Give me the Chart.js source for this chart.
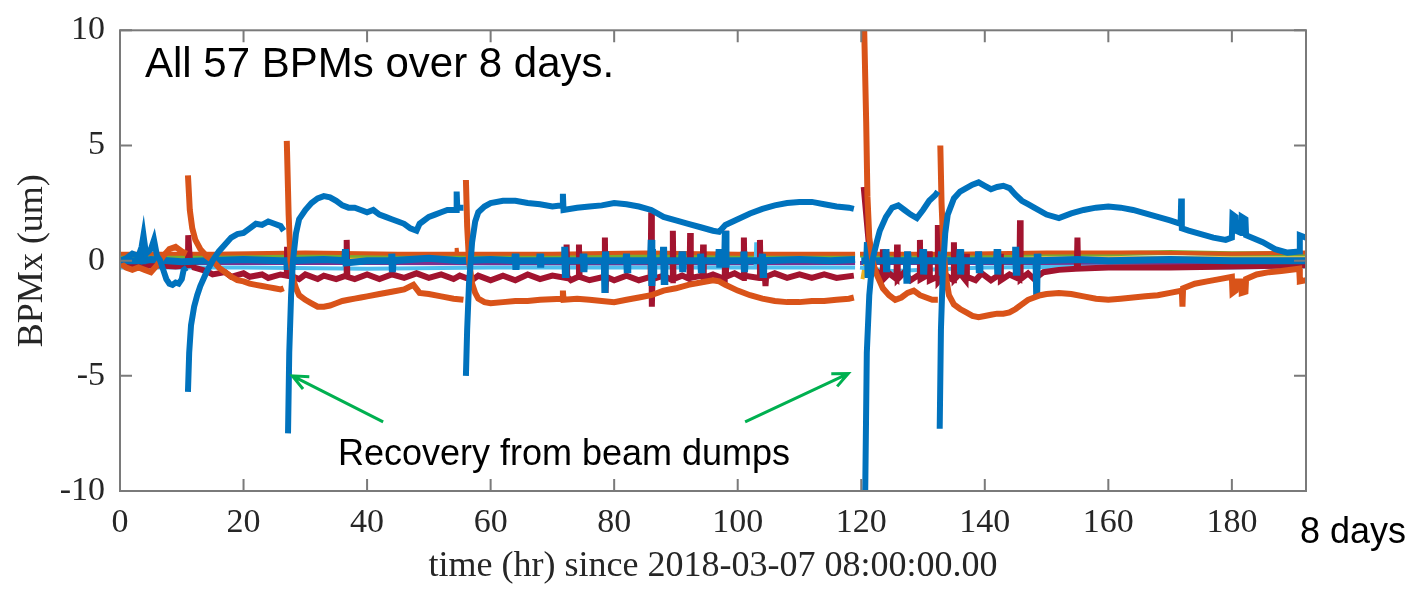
<!DOCTYPE html>
<html>
<head>
<meta charset="utf-8">
<script src="https://cdn.jsdelivr.net/npm/chart.js@4.4.1/dist/chart.umd.min.js"></script>
<style>
  html, body { margin: 0; padding: 0; background: #fff; }
  #wrap { width: 1414px; height: 590px; }
</style>
</head>
<body>
<div id="wrap"><canvas id="bpmChart"></canvas></div>
<script>
// axis ticks
const xTicks = [0, 20, 40, 60, 80, 100, 120, 140, 160, 180];
const yTicks = [-10, -5, 0, 5, 10];

// [time (hr), BPMx (um)]; null = gap in the record
const blueDrift = [
  [0,0],[1,0.1],[2,0.3],[3,0.2],[3.5,0.6],[3.8,1.1],[4.2,0.3],[5,0.5],[5.5,0.9],[6,0.2],[6.5,0],[7,-0.4],[7.5,-0.8],[8,-1.0],[8.5,-1.05],[9,-0.95],[9.5,-1.0],[10,-0.8],[10.3,-0.4],[10.8,-0.3],[10.9,null],
  [11.0,-5.7],[11.2,-4.0],[11.5,-2.8],[12,-2.0],[12.5,-1.5],[13,-1.1],[14,-0.5],[15,0],[16,0.4],[17,0.7],[18,1.0],[19,1.15],[20,1.2],[21,1.4],[22,1.6],[23,1.55],[24,1.7],[25,1.6],[26,1.5],[26.5,1.3],[26.8,null],
  [27.2,-7.5],[27.4,-4.0],[27.7,-1.5],[28,0],[28.5,1.2],[29,1.8],[30,2.2],[31,2.5],[32,2.7],[33,2.8],[34,2.75],[35,2.6],[36,2.4],[37,2.3],[38,2.3],[39,2.2],[40,2.1],[41,2.2],[42,2.0],[43,1.9],[44,1.8],[45,1.7],[46,1.6],[47,1.4],[48,1.3],[48.5,1.6],[49,1.7],[50,1.9],[51,2.0],[52,2.1],[53,2.2],[54.4,2.2],[54.5,3.0],[54.6,2.3],[55.6,2.3],[55.8,null],
  [56.0,-5.0],[56.2,-3.0],[56.5,-1.0],[57,0.8],[57.5,1.7],[58,2.1],[59,2.35],[60,2.5],[62,2.6],[64,2.6],[66,2.5],[68,2.45],[70,2.35],[71.6,2.4],[71.7,2.9],[71.8,2.2],[74,2.3],[76,2.35],[78,2.4],[80,2.5],[82,2.45],[84,2.35],[86,2.2],[88,1.9],[90,1.75],[92,1.6],[94,1.45],[96,1.3],[97,1.25],[98,1.55],[100,1.8],[102,2.05],[104,2.25],[106,2.4],[108,2.5],[110,2.55],[112,2.55],[114,2.45],[116,2.35],[118,2.3],[118.8,2.25],[119,null],
  [120.6,-11],[120.9,-4.0],[121.3,-1.5],[121.8,0],[122.5,0.8],[123,1.3],[124,1.9],[125,2.3],[126,2.4],[127,2.2],[128,2.0],[129,1.85],[130,2.2],[131,2.6],[132,2.85],[132.4,3.0],[132.5,null],
  [132.7,-7.3],[132.9,-3.0],[133.2,-0.5],[133.6,1.2],[134,2.0],[135,2.7],[136,3.0],[137,3.15],[138,3.3],[139,3.4],[140,3.25],[141,3.1],[142,3.2],[143,3.25],[144,3.15],[145,2.85],[146,2.6],[147,2.45],[148,2.3],[150,2.0],[152,1.85],[154,2.05],[156,2.2],[158,2.3],[160,2.35],[162,2.3],[164,2.2],[166,2.05],[168,1.9],[170,1.75],[171.7,1.6],[171.8,2.7],[171.9,1.4],[173,1.3],[175,1.15],[177,1.0],[179,0.9],[180,1.0],[180.1,2.0],[180.6,1.9],[180.7,1.3],[181.5,1.2],[181.6,1.9],[182.2,1.8],[182.3,1.1],[185,0.8],[187,0.5],[189,0.35],[190.9,0.4],[191.0,1.1],[192,1.0]
];

const orangeDrift = [
  [0,-0.1],[1,-0.3],[2,-0.4],[3,-0.3],[4,-0.4],[5,-0.5],[6,-0.2],[7,0.2],[8,0.5],[9,0.6],[10,0.4],[10.8,0.3],[10.9,null],
  [11.0,3.7],[11.3,2.2],[11.7,1.4],[12.2,0.9],[13,0.5],[14,0.2],[15,0],[16,-0.3],[17,-0.5],[18,-0.7],[19,-0.85],[20,-0.9],[21,-1.0],[22,-1.05],[23,-1.1],[24,-1.15],[25,-1.2],[26,-1.25],[26.5,-1.2],[26.8,null],
  [27.0,5.2],[27.3,2.0],[27.6,0],[28,-0.8],[28.5,-1.2],[29,-1.5],[30,-1.7],[31,-1.85],[32,-2.0],[33,-2.0],[34,-1.95],[35,-1.85],[36,-1.75],[37,-1.7],[38,-1.65],[39,-1.6],[40,-1.55],[42,-1.45],[44,-1.35],[46,-1.25],[47.5,-1.05],[48.5,-1.4],[50,-1.45],[52,-1.55],[54,-1.65],[55.6,-1.7],[55.8,null],
  [56.0,3.5],[56.2,1.5],[56.5,0],[57,-1.0],[57.5,-1.4],[58,-1.65],[59,-1.8],[60,-1.85],[62,-1.8],[64,-1.75],[66,-1.75],[68,-1.7],[71.6,-1.65],[71.7,-1.3],[71.8,-1.7],[74,-1.65],[76,-1.7],[78,-1.75],[80,-1.8],[82,-1.7],[84,-1.6],[86,-1.5],[88,-1.3],[90,-1.2],[92,-1.05],[94,-0.95],[96,-0.85],[97,-0.9],[98,-1.05],[100,-1.3],[102,-1.5],[104,-1.65],[106,-1.75],[108,-1.8],[110,-1.8],[112,-1.75],[114,-1.75],[116,-1.7],[118,-1.65],[118.8,-1.6],[119,null],
  [120.4,11],[120.8,6],[121.0,2.8],[121.3,1.0],[121.8,0],[122.5,-0.6],[123.5,-1.2],[124.5,-1.5],[125.5,-1.7],[126.5,-1.6],[127.5,-1.4],[128.5,-1.3],[129.5,-1.5],[130.5,-1.6],[131.5,-1.7],[132.4,-1.7],[132.5,null],
  [132.8,5.0],[133.0,2.5],[133.3,0.5],[133.7,-0.7],[134.2,-1.5],[135,-1.9],[136,-2.1],[137,-2.25],[138,-2.4],[139,-2.45],[140,-2.4],[141,-2.35],[142,-2.3],[143,-2.3],[144,-2.25],[145,-2.1],[146,-1.9],[147,-1.7],[148,-1.6],[149,-1.5],[150,-1.45],[152,-1.4],[154,-1.45],[156,-1.55],[158,-1.65],[160,-1.7],[162,-1.65],[164,-1.6],[166,-1.55],[168,-1.5],[170,-1.4],[171.9,-1.3],[172.0,-2.0],[172.1,-1.2],[174,-1.0],[176,-0.9],[178,-0.8],[180,-0.7],[180.1,-1.4],[180.6,-1.3],[180.7,-0.9],[181.5,-0.9],[181.6,-1.4],[182.2,-1.35],[182.3,-0.8],[184,-0.6],[186,-0.5],[188,-0.45],[190.9,-0.35],[191.0,-0.9],[192,-0.85]
];

const darkRed = [
  [0,-0.15],[3,-0.2],[6,-0.2],[9,-0.25],[11.0,-0.2],[11.05,1.1],[11.3,0.1],[12,-0.3],[14,-0.45],[15,-0.6],[17,-0.5],[18,-0.7],[20,-0.55],[21,-0.7],[23,-0.6],[24,-0.75],[26,-0.6],[27.0,-0.65],[27.05,0.6],[27.1,-0.6],[29,-0.8],[30,-0.6],[32,-0.8],[33,-0.65],[35,-0.8],[36.6,-0.65],[36.7,0.9],[36.8,-0.7],[38,-0.8],[40,-0.6],[42,-0.8],[44,-0.6],[46,-0.75],[48,-0.55],[50,-0.75],[52,-0.6],[54,-0.8],[55,-0.65],
  [57,-0.85],[58,-0.65],[60,-0.85],[62,-0.65],[64,-0.85],[66,-0.6],[68,-0.8],[70,-0.65],[72.2,-0.75],[72.3,0.7],[72.4,-0.7],[73,-0.85],[74.2,-0.7],[74.3,0.7],[74.4,-0.7],[76,-0.85],[78.4,-0.7],[78.5,1.0],[78.6,-1.4],[78.7,-0.7],[80,-0.85],[82,-0.65],[84,-0.85],[85.9,-0.7],[86,2.1],[86.1,-2.0],[86.2,-0.8],[88,-0.65],[89.4,-0.85],[89.5,1.3],[89.6,-0.8],[91,-0.65],[92.2,-0.8],[92.3,1.2],[92.4,-0.75],[94.3,-0.65],[94.4,0.7],[94.5,-0.75],[96,-0.6],[97.9,-0.8],[98,1.3],[98.1,-0.7],[99.5,-0.55],[100.9,-0.75],[101,1.0],[101.1,-0.65],[103.5,-0.75],[103.6,0.9],[103.7,-0.6],[104.4,-0.7],[104.5,-1.1],[104.6,-0.7],[106,-0.55],[108,-0.75],[110,-0.6],[112,-0.75],[114,-0.6],[116,-0.75],[118.8,-0.65],[119.5,null],
  [120.4,3.2],[120.8,2.0],[121.2,0.8],[121.6,0],[122.2,-0.4],[123.4,-0.65],[123.5,0.5],[123.6,-0.8],[124.5,-0.55],[125.7,-0.8],[125.8,0.7],[125.9,-0.8],[127,-0.5],[128,-0.85],[129.4,-0.6],[129.5,0.9],[129.6,-0.8],[130.9,-0.6],[131,0.4],[131.1,-0.85],[132.3,-0.7],[132.4,1.55],[132.5,-0.9],[133.5,-0.6],[134.9,-0.85],[135,0.8],[135.1,-0.8],[136,-0.55],[136.9,-0.85],[137,0.3],[137.1,-0.7],[138.5,-0.85],[139.5,-0.55],[141,-0.85],[142.4,-0.6],[142.5,0.3],[142.6,-0.85],[144,-0.6],[145.6,-0.8],[145.7,1.75],[145.8,-0.8],[147,-0.55],[148,-0.8],[149.5,-0.5],[152,-0.4],[154.9,-0.35],[155,1.0],[155.1,-0.35],[160,-0.3],[170,-0.3],[180,-0.25],[192,-0.2]
];

const blueNoise = [
  [0,0],[3.7,0],[3.8,0.9],[3.9,0],[5,0.05],[10,-0.05],[14,0],[20,0.05],[26,0],[27,0],[27.1,-0.4],[27.2,0],[33,0.05],[36.4,0],[36.5,0.5],[36.6,-0.1],[40,0],[43.9,0],[44,0.3],[44.1,-0.5],[44.2,0],[50,0.1],[55,0],[60,0.05],[63.9,0],[64,0.3],[64.1,-0.4],[64.2,0],[67.9,0],[68,0.3],[68.1,-0.3],[68.2,0],[71.9,0],[72,0.6],[72.1,-0.6],[72.2,0],[74.9,0],[75,0.3],[75.1,-0.5],[75.2,0],[78.4,0],[78.5,-1.4],[78.6,0.4],[78.7,0],[81.9,0],[82,0.3],[82.1,-0.4],[82.2,0],[85.9,0],[86,0.9],[86.1,-1.1],[86.2,0.5],[86.3,-0.6],[86.4,0],[87.9,0],[88,0.6],[88.1,-0.9],[88.2,0],[90.9,0],[91,0.4],[91.1,-0.5],[91.2,0],[93.9,0],[94,0.3],[94.1,-0.4],[94.2,0],[96.9,0],[97,0.5],[97.1,-0.3],[97.2,0],[97.9,0],[98,1.3],[98.1,-0.3],[98.2,0],[100.9,0],[101,0.4],[101.1,-0.5],[101.2,0],[103.9,0],[104,0.3],[104.1,-0.6],[104.2,0],[110,0.05],[115,0],[119,0.05],[119.5,null],
  [120,0],[120.9,0],[121,0.8],[121.1,-0.6],[121.2,0],[123.9,0],[124,0.5],[124.1,-0.5],[124.2,0],[127.3,0],[127.4,-1.0],[127.5,0.4],[127.6,0],[129.9,0],[130,0.5],[130.1,-0.6],[130.2,0],[132.9,0],[133,0.4],[133.1,-0.5],[133.2,0],[135.9,0],[136,0.5],[136.1,-0.6],[136.2,0],[138.9,0],[139,0.4],[139.1,-0.4],[139.2,0],[141.9,0],[142,0.5],[142.1,-0.6],[142.2,0],[144.9,0],[145,0.6],[145.1,-0.5],[145.2,0],[148.3,0],[148.4,-1.5],[148.5,0.3],[148.6,0],[155,0.05],[160,0],[170,0.05],[180,0],[192,0]
];

const lightBlue = [
  [0,-0.3],[20,-0.3],[40,-0.35],[60,-0.3],[78.4,-0.3],[78.5,0.9],[78.6,-0.3],[85.9,-0.3],[86,1.0],[86.1,-0.3],[92.1,-0.3],[92.2,-0.8],[92.3,-0.3],[102.9,-0.3],[103,0.8],[103.1,-0.3],[119,-0.3],[119.5,null],
  [119.8,-0.3],[125,-0.45],[140,-0.3],[160,-0.25],[180,-0.3],[192,-0.25]
];

const greenBpm = [
  [0,0.25],[10,0.2],[20,0.25],[30,0.22],[40,0.25],[50,0.2],[60,0.25],[70,0.22],[80,0.25],[90,0.2],[100,0.25],[110,0.22],[119,0.25],[119.5,null],
  [119.8,0.25],[130,0.2],[140,0.25],[150,0.3],[160,0.3],[170,0.35],[180,0.3],[192,0.3]
];

const orangeFlat = [
  [0,0.3],[15,0.3],[30,0.35],[45,0.3],[54.4,0.3],[54.5,0.55],[54.6,0.3],[70,0.3],[85,0.35],[100,0.3],[119,0.3],[119.5,null],
  [119.8,0.3],[135,0.3],[150,0.35],[165,0.35],[180,0.3],[192,0.35]
];

const yellowBpm = [
  [0,0.1],[40,0.1],[80,0.1],[119,0.1],[119.5,null],
  [120.2,-0.8],[120.5,-0.3],[121,0.1],[160,0.1],[192,0.1]
];

const purpleBpm = [
  [0,-0.1],[40,-0.1],[80,-0.12],[119,-0.1],[119.5,null],
  [119.8,-0.1],[160,-0.1],[192,-0.1]
];

const toXY = arr => arr.map(p => ({ x: p[0], y: p[1] }));

function line(data, color, width, order) {
  return {
    data: toXY(data),
    borderColor: color,
    borderWidth: width,
    pointRadius: 0,
    tension: 0,
    spanGaps: false,
    clip: 0,
    order: order
  };
}

// MATLAB-style box, inward ticks, notes and arrows
const boxAndNotes = {
  id: 'boxAndNotes',
  afterDatasetsDraw(chart) {
    const { ctx, chartArea: a, scales: { x, y } } = chart;
    ctx.save();
    ctx.strokeStyle = '#7a7a7a';
    ctx.lineWidth = 2;
    ctx.strokeRect(a.left, a.top, a.right - a.left, a.bottom - a.top);
    ctx.beginPath();
    xTicks.forEach(v => {
      const px = x.getPixelForValue(v);
      ctx.moveTo(px, a.bottom); ctx.lineTo(px, a.bottom - 12);
      ctx.moveTo(px, a.top); ctx.lineTo(px, a.top + 12);
    });
    yTicks.forEach(v => {
      const py = y.getPixelForValue(v);
      ctx.moveTo(a.left, py); ctx.lineTo(a.left + 12, py);
      ctx.moveTo(a.right, py); ctx.lineTo(a.right - 12, py);
    });
    ctx.stroke();

    // arrows toward two of the dumps
    ctx.strokeStyle = '#00B050';
    ctx.lineWidth = 3;
    const arrow = (t0, v0, t1, v1) => {
      const x0 = x.getPixelForValue(t0), y0 = y.getPixelForValue(v0);
      const x1 = x.getPixelForValue(t1), y1 = y.getPixelForValue(v1);
      const ang = Math.atan2(y1 - y0, x1 - x0);
      const h = 17;
      ctx.beginPath();
      ctx.moveTo(x0, y0); ctx.lineTo(x1, y1);
      ctx.moveTo(x1 - h * Math.cos(ang - 0.42), y1 - h * Math.sin(ang - 0.42));
      ctx.lineTo(x1, y1);
      ctx.lineTo(x1 - h * Math.cos(ang + 0.42), y1 - h * Math.sin(ang + 0.42));
      ctx.stroke();
    };
    arrow(42.6, -7.0, 27.9, -5.0);
    arrow(101.2, -7.0, 117.9, -4.9);

    ctx.fillStyle = '#000';
    ctx.textBaseline = 'alphabetic';
    ctx.font = '42px "Liberation Sans", Arial, sans-serif';
    ctx.textAlign = 'left';
    ctx.fillText('All 57 BPMs over 8 days.', 145, 77);
    ctx.font = '36px "Liberation Sans", Arial, sans-serif';
    ctx.textAlign = 'center';
    ctx.fillText('Recovery from beam dumps', 564, 465);
    ctx.textAlign = 'left';
    ctx.fillText('8 days', 1300, 543);
    ctx.restore();
  }
};

const tickFont = { family: '"Liberation Serif", "Times New Roman", serif', size: 34 };

new Chart(document.getElementById('bpmChart'), {
  type: 'line',
  data: {
    datasets: [
      line(blueDrift, '#0072BD', 6, 1),
      line(orangeDrift, '#D95319', 6, 2),
      line(blueNoise, '#0072BD', 7, 3),
      line(darkRed, '#A2142F', 6, 4),
      line(lightBlue, '#4DBEEE', 4, 5),
      line(orangeFlat, '#D95319', 4, 6),
      line(greenBpm, '#77AC30', 5, 7),
      line(yellowBpm, '#EDB120', 4, 8),
      line(purpleBpm, '#7E2F8E', 4, 9)
    ]
  },
  options: {
    responsive: true,
    maintainAspectRatio: false,
    animation: false,
    layout: { padding: { top: 16, right: 108, left: 0, bottom: 0 } },
    plugins: { legend: { display: false }, tooltip: { enabled: false } },
    scales: {
      x: {
        type: 'linear',
        min: 0,
        max: 192,
        afterBuildTicks: s => { s.ticks = xTicks.map(v => ({ value: v })); },
        afterFit: s => { s.height = 99; },
        grid: { display: false, drawTicks: false },
        border: { display: false },
        ticks: { font: tickFont, color: '#262626', padding: 12, maxRotation: 0 },
        title: {
          display: true,
          text: 'time (hr) since 2018-03-07 08:00:00.00',
          font: { family: tickFont.family, size: 36 },
          color: '#262626',
          padding: { top: 0, bottom: 2 }
        }
      },
      y: {
        min: -10,
        max: 10,
        afterBuildTicks: s => { s.ticks = yTicks.map(v => ({ value: v })); },
        afterFit: s => { s.width = 120; },
        grid: { display: false, drawTicks: false },
        border: { display: false },
        ticks: { font: { ...tickFont, lineHeight: 0.9 }, color: '#262626', padding: 15 },
        title: {
          display: true,
          text: 'BPMx (um)',
          font: { family: tickFont.family, size: 36 },
          color: '#262626',
          padding: { top: 11, bottom: 0 }
        }
      }
    }
  },
  plugins: [boxAndNotes]
});
</script>
</body>
</html>
